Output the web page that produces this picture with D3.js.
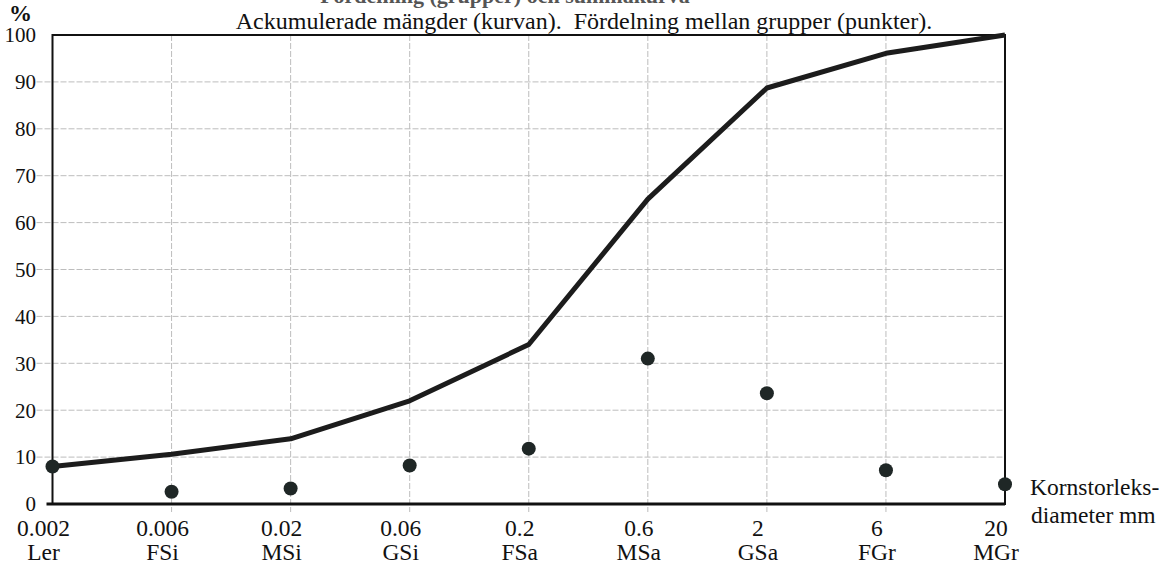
<!doctype html>
<html>
<head>
<meta charset="utf-8">
<script src="https://cdnjs.cloudflare.com/ajax/libs/d3/7.8.5/d3.min.js"></script>
<style>
  body { margin: 0; background: #fff; }
  svg { display: block; }
  text { font-family: "Liberation Serif", "Times New Roman", serif; fill: #111; }
</style>
</head>
<body>
<svg id="chart" width="1162" height="565"></svg>
<script>
    // grain size classes and their diameters (mm)
    var groups = ["Ler", "FSi", "MSi", "GSi", "FSa", "MSa", "GSa", "FGr", "MGr"];
    var diameters = ["0.002", "0.006", "0.02", "0.06", "0.2", "0.6", "2", "6", "20"];
    // accumulated amounts (the curve)
    var cumulative = [8, 10.6, 13.9, 22, 34, 65, 88.7, 96.1, 100];
    // distribution between groups (the dots)
    var perGroup = [8, 2.6, 3.3, 8.2, 11.8, 31, 23.6, 7.2, 4.2];
    var yTicks = [0, 10, 20, 30, 40, 50, 60, 70, 80, 90, 100];

    // plot box (note: "top" is reserved on window, so use other names)
    var plotL = 52.5, plotR = 1005, plotT = 35, plotB = 504;

    var svg = d3.select("#chart");

    var x = d3.scalePoint().domain(groups).range([plotL, plotR]);
    var y = d3.scaleLinear().domain([0, 100]).range([plotB, plotT]);

    // faint, cut off heading at the very top
    svg.append("text")
        .attr("x", 505).attr("y", 3)
        .attr("text-anchor", "middle")
        .style("font-size", "22px").style("font-weight", "bold").style("fill", "#555")
        .text("Fördelning (grupper) och summakurva");

    svg.append("text")
        .attr("x", 584).attr("y", 29)
        .attr("text-anchor", "middle")
        .style("font-size", "24px").style("white-space", "pre")
        .text("Ackumulerade mängder (kurvan).  Fördelning mellan grupper (punkter).");

    svg.append("text")
        .attr("x", 9).attr("y", 21)
        .style("font-size", "23px").style("font-weight", "bold")
        .text("%");

    // grid
    var grid = svg.append("g").attr("class", "grid");
    grid.selectAll("line.h")
        .data(yTicks.slice(1, -1))
        .enter().append("line")
        .attr("class", "h")
        .attr("x1", plotL - 16).attr("x2", plotR)
        .attr("y1", d => y(d)).attr("y2", d => y(d))
        .style("stroke", "#bdbdbd").style("stroke-width", 1).style("stroke-dasharray", "6,2");
    grid.selectAll("line.v")
        .data(groups.slice(1, -1))
        .enter().append("line")
        .attr("class", "v")
        .attr("x1", d => x(d)).attr("x2", d => x(d))
        .attr("y1", plotT).attr("y2", plotB + 8)
        .style("stroke", "#bdbdbd").style("stroke-width", 1).style("stroke-dasharray", "6,2");

    // frame
    svg.append("rect")
        .attr("x", plotL).attr("y", plotT)
        .attr("width", plotR - plotL).attr("height", plotB - plotT)
        .style("fill", "none").style("stroke", "#111").style("stroke-width", 2);
    svg.append("line")
        .attr("x1", plotL - 6).attr("x2", plotR)
        .attr("y1", plotB).attr("y2", plotB)
        .style("stroke", "#111").style("stroke-width", 3);

    // y tick labels
    svg.selectAll("text.ytick")
        .data(yTicks)
        .enter().append("text")
        .attr("class", "ytick")
        .attr("x", 36).attr("y", d => y(d))
        .attr("dy", "0.35em")
        .attr("text-anchor", "end")
        .style("font-size", "21px")
        .text(d => d);

    // x tick labels, two rows
    svg.selectAll("text.xdia")
        .data(groups)
        .enter().append("text")
        .attr("class", "xdia")
        .attr("x", d => x(d) - 9).attr("y", 536)
        .attr("text-anchor", "middle")
        .style("font-size", "23.5px")
        .text((d, i) => diameters[i]);
    svg.selectAll("text.xgrp")
        .data(groups)
        .enter().append("text")
        .attr("class", "xgrp")
        .attr("x", d => x(d) - 9).attr("y", 560)
        .attr("text-anchor", "middle")
        .style("font-size", "23.5px")
        .text(d => d);

    svg.append("text")
        .attr("x", 1030).attr("y", 495)
        .style("font-size", "23.5px")
        .text("Kornstorleks-");
    svg.append("text")
        .attr("x", 1031).attr("y", 523)
        .style("font-size", "23.5px")
        .text("diameter mm");

    // curve
    var line = d3.line()
        .x((d, i) => x(groups[i]))
        .y(d => y(d));
    svg.append("path")
        .datum(cumulative)
        .attr("d", line)
        .style("fill", "none").style("stroke", "#1c1c1c").style("stroke-width", 5)
        .style("stroke-linejoin", "round");

    // dots
    svg.selectAll("circle.pt")
        .data(perGroup)
        .enter().append("circle")
        .attr("class", "pt")
        .attr("cx", (d, i) => x(groups[i]))
        .attr("cy", d => y(d))
        .attr("r", 7)
        .style("fill", "#1f2726");
</script>
</body>
</html>
